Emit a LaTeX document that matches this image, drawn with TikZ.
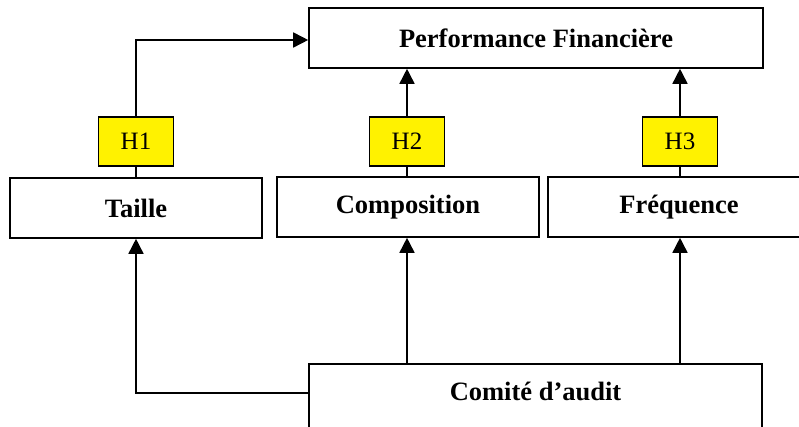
\documentclass[tikz,border=0pt]{standalone}
\usepackage{fontspec}
\setmainfont{Liberation Serif}
\usetikzlibrary{arrows.meta, positioning}

\begin{document}
\begin{tikzpicture}[x=1pt, y=-1pt,
			>={Triangle[length=15pt, width=15pt]},
			line width=1.6pt,
			box/.style={draw=black, fill=white, minimum height=60pt, inner sep=0pt,
				font=\fontsize{26.5}{28}\selectfont\bfseries},
			hyp/.style={draw=black, fill=yellow, minimum width=75pt, minimum height=49pt,
				inner sep=0pt, font=\fontsize{25}{27}\selectfont}]

			\clip (0,0) rectangle (799,427);

			% variables
			\node[box, minimum width=454pt] (perf) at (536,38) {Performance Financière};
			\node[box, minimum width=252pt] (taille) at (136,208) {Taille};
			\node[box, minimum width=262pt] (compo) at (408,207) {Composition};
			\node[box, minimum width=262pt] (freq) at (679,207) {Fréquence};
			\node[box, minimum width=453pt, minimum height=100pt, anchor=north] (comite) at (535.5,363) {};
			\path (comite.north) ++(0,28) node[font=\fontsize{26.5}{28}\selectfont\bfseries] (comitetxt) {Comité d’audit};

			% hypotheses
			\node[hyp] (h1) at (136,141.5) {H1};
			\node[hyp] (h2) at (407,141.5) {H2};
			\node[hyp] (h3) at (680,141.5) {H3};

			\draw[->] (h1.north) |- ([yshift=-2pt]perf.west);
			\draw (h1.south) -- (taille.north);
			\draw[->] (h2.north) -- (h2.north |- perf.south);
			\draw (h2.south) -- (h2.south |- compo.north);
			\draw[->] (h3.north) -- (h3.north |- perf.south);
			\draw (h3.south) -- (h3.south |- freq.north);

			\draw[->] ([yshift=-2pt]comite.west |- comitetxt) -| (taille.south);
			\draw[->] (comite.north -| h2) -- (h2 |- compo.south);
			\draw[->] (comite.north -| h3) -- (h3 |- freq.south);
		\end{tikzpicture}
\end{document}
